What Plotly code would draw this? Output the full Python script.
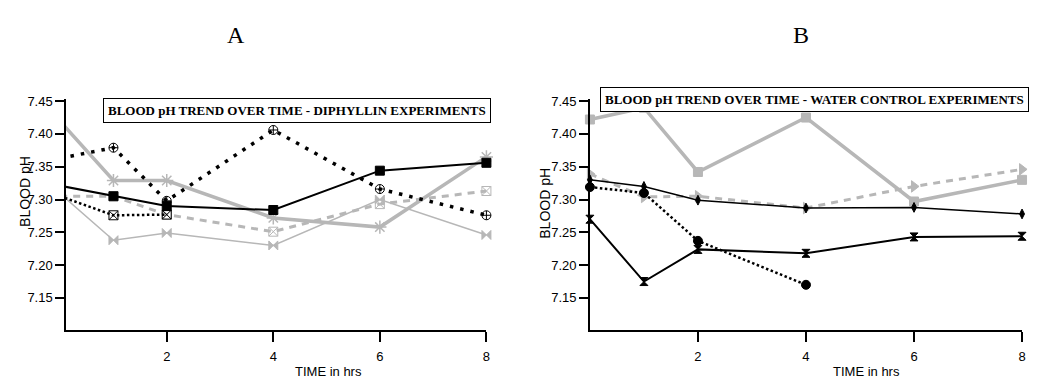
import plotly.graph_objects as go

# ---------------- data ----------------
hours = [0, 1, 2, 4, 6, 8]
hours_short3 = [0, 1, 2]
hours_short4 = [0, 1, 2, 4]

# Panel A - Diphyllin experiments
a_black_dotted_circle = [7.363, 7.379, 7.298, 7.406, 7.316, 7.276]
a_black_solid_square = [7.321, 7.305, 7.290, 7.284, 7.344, 7.356]
a_black_fine_dotted = [7.305, 7.276, 7.277]
a_gray_dashed = [7.305, 7.305, 7.277, 7.251, 7.293, 7.313]
a_gray_thick = [7.419, 7.329, 7.329, 7.272, 7.258, 7.365]
a_gray_thin = [7.309, 7.238, 7.249, 7.230, 7.300, 7.246]

# Panel B - Water control experiments
b_gray_square = [7.422, 7.440, 7.342, 7.425, 7.297, 7.330]
b_gray_triangle = [7.339, 7.304, 7.305, 7.287, 7.320, 7.346]
b_black_diamond = [7.330, 7.320, 7.299, 7.287, 7.288, 7.278]
b_black_circle = [7.319, 7.310, 7.237, 7.170]
b_black_hourglass = [7.270, 7.175, 7.224, 7.218, 7.243, 7.244]

y_ticks = [7.15, 7.20, 7.25, 7.30, 7.35, 7.40, 7.45]
y_tick_text = ["7.15", "7.20", "7.25", "7.30", "7.35", "7.40", "7.45"]
x_ticks = [2, 4, 6, 8]
x_tick_text = ["2", "4", "6", "8"]

title_a = "BLOOD pH TREND OVER TIME - DIPHYLLIN EXPERIMENTS"
title_b = "BLOOD pH TREND OVER TIME - WATER CONTROL EXPERIMENTS"
y_title = "BLOOD pH"
x_title = "TIME in hrs"

# ---------------- layout helpers ----------------
W, H = 1037, 378
GRAY = "rgb(183,183,183)"
BLACK = "black"

def px(x):
    return x / W

def py(y):
    return 1 - y / H

A_RANGE = [0.11, 8.0]
B_RANGE = [0.0, 8.0]
Y_RANGE = [7.101, 7.4525]

fig = go.Figure()

def add_series(xs, ys, axis, color, width, dash, symbol, size, xr, mline=1):
    xa, ya = ("x", "y") if axis == "A" else ("x2", "y2")
    fig.add_trace(go.Scatter(
        x=xs, y=ys, mode="lines", xaxis=xa, yaxis=ya,
        line=dict(color=color, width=width, dash=dash),
        showlegend=False, hoverinfo="skip"))
    mx = [x for x in xs if xr[0] - 1e-9 <= x <= xr[1]]
    my = [y for x, y in zip(xs, ys) if xr[0] - 1e-9 <= x <= xr[1]]
    fig.add_trace(go.Scatter(
        x=mx, y=my, mode="markers", xaxis=xa, yaxis=ya, cliponaxis=False,
        marker=dict(symbol=symbol, size=size, color=color,
                    line=dict(color=color, width=mline)),
        showlegend=False, hoverinfo="skip"))

# Panel A
add_series(hours, a_gray_thin, "A", GRAY, 1.5, "solid", "bowtie", 9, A_RANGE)
add_series(hours, a_gray_thick, "A", GRAY, 3.5, "solid", "asterisk-open", 11, A_RANGE, 1.5)
add_series(hours, a_gray_dashed, "A", GRAY, 3, "7px,6px", "square-x-open", 9, A_RANGE)
add_series(hours, a_black_solid_square, "A", BLACK, 2, "solid", "square", 9, A_RANGE)
add_series(hours_short3, a_black_fine_dotted, "A", BLACK, 2.5, "2.5px,2.5px", "square-x-open", 9, A_RANGE)
add_series(hours, a_black_dotted_circle, "A", BLACK, 3.5, "3.5px,7px", "circle-cross-open", 9, A_RANGE)

# Panel B
add_series(hours, b_gray_square, "B", GRAY, 3.5, "solid", "square", 9, B_RANGE)
add_series(hours, b_gray_triangle, "B", GRAY, 3, "7px,6px", "triangle-right", 10, B_RANGE)
add_series(hours, b_black_diamond, "B", BLACK, 1.5, "solid", "diamond-tall", 7, B_RANGE)
add_series(hours_short4, b_black_circle, "B", BLACK, 2.5, "2.5px,2.5px", "circle", 9, B_RANGE)
add_series(hours, b_black_hourglass, "B", BLACK, 2, "solid", "hourglass", 8, B_RANGE)

tickfont = dict(family="Liberation Sans, Arial, sans-serif", size=13, color="black")

xcommon = dict(showline=True, linecolor="black", linewidth=1.5, ticks="outside",
               ticklen=10, tickwidth=1.5, tickcolor="black", tickvals=x_ticks,
               ticktext=x_tick_text, showgrid=False, zeroline=False, tickfont=tickfont,
               ticklabelstandoff=4, fixedrange=True)
ycommon = dict(showline=True, linecolor="black", linewidth=1.5, ticks="outside",
               ticklen=9, tickwidth=1.5, tickcolor="black", tickvals=y_ticks,
               ticktext=y_tick_text, showgrid=False, zeroline=False, tickfont=tickfont,
               range=Y_RANGE, fixedrange=True)

y_dom = [py(329.3), py(95)]

fig.update_layout(
    width=W, height=H, margin=dict(l=0, r=0, t=0, b=0),
    paper_bgcolor="white", plot_bgcolor="white",
    xaxis=dict(domain=[px(66.3), px(488.3)], range=A_RANGE, anchor="y", **xcommon),
    yaxis=dict(domain=y_dom, anchor="x", **ycommon),
    xaxis2=dict(domain=[px(592.2), px(1026)], range=B_RANGE, anchor="y2", **xcommon),
    yaxis2=dict(domain=y_dom, anchor="x2", **ycommon),
)

serif = "Liberation Serif, Times New Roman, serif"
sans = "Liberation Sans, Arial, sans-serif"
annos = []

def anno(text, x, y, **kw):
    d = dict(text=text, x=px(x), y=py(y), showarrow=False, xref="paper", yref="paper",
             xanchor="center", yanchor="middle")
    d.update(kw)
    annos.append(d)

# Panel letters
anno("A", 237, 29, font=dict(family=serif, size=24, color="black"))
anno("B", 804, 29, font=dict(family=serif, size=24, color="black"))
# Title boxes
anno("<b>" + title_a + "</b>", 298.5, 106.5, bgcolor="white", bordercolor="black",
     borderwidth=1, borderpad=4, font=dict(family=serif, size=13, color="black"))
anno("<b>" + title_b + "</b>", 818, 94.5, bgcolor="white", bordercolor="black",
     borderwidth=1, borderpad=4, font=dict(family=serif, size=13, color="black"))
# Axis titles
for xc, yc in [(25, 188), (547, 200)]:
    anno(y_title, xc, yc, textangle=-90, font=dict(family=sans, size=14, color="black"))
for xc in [330, 870]:
    anno(x_title, xc, 371, font=dict(family=sans, size=13, color="black"))

fig.update_layout(annotations=annos)
fig.write_html("out.html")
